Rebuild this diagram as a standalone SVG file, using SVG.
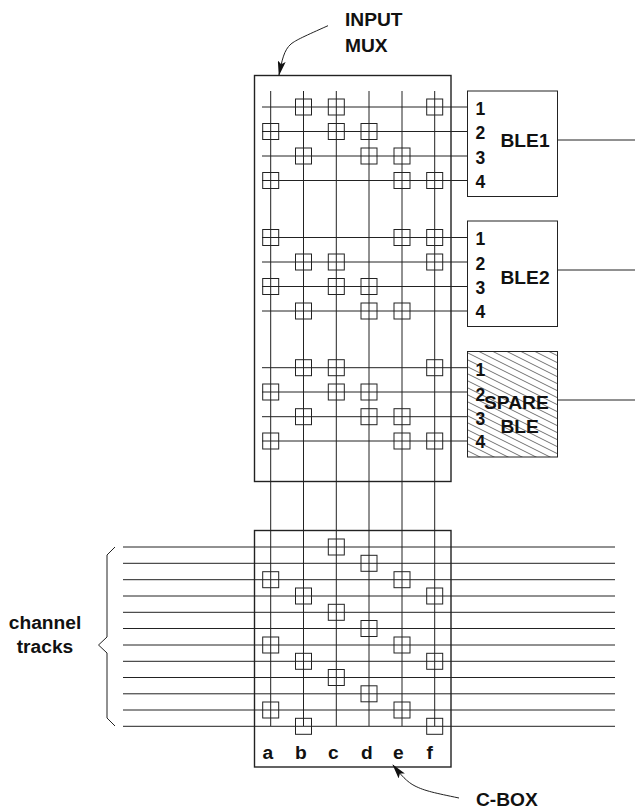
<svg xmlns="http://www.w3.org/2000/svg" width="635" height="809" viewBox="0 0 635 809">
<style>
text{font-family:"Liberation Sans",Arial,sans-serif;font-weight:700;font-size:19.200px;fill:#111}
.d{font-size:17.500px}
.w{fill:none;stroke:#222;stroke-width:1}
.b{fill:none;stroke:#222;stroke-width:1.400}
.n{fill:#fff;stroke:#222;stroke-width:1}
.m{text-anchor:middle}
</style>
<defs>
<pattern id="h" width="14" height="7" patternUnits="userSpaceOnUse"><path d="M-14 -7L28 14M-14 0L14 14M0 -7L28 7" stroke="#333" stroke-width=".7" fill="none"/></pattern>
<symbol id="s" overflow="visible"><rect x="-8" y="-8" width="16" height="16" class="w"/></symbol>
<marker id="a" markerWidth="15" markerHeight="8" refX="14" refY="4" orient="auto" markerUnits="userSpaceOnUse"><path d="M0 0L15 4L0 8L3 4z" fill="#111"/></marker>
</defs>
<g id="input-mux"><rect x="254.500" y="75.500" width="196.500" height="406" class="b"/></g>
<g id="c-box"><rect x="254.500" y="530.500" width="196.500" height="236.500" class="b"/></g>
<g id="ble1"><rect x="467.500" y="91" width="90" height="105.500" class="n"/><text class="d" x="475.500" y="115">1</text><text class="d" x="475.500" y="139">2</text><text class="d" x="475.500" y="164">3</text><text class="d" x="475.500" y="188">4</text><text x="500.500" y="147">BLE1</text></g>
<g id="ble2"><rect x="467.500" y="221" width="90" height="105.500" class="n"/><text class="d" x="475.500" y="245">1</text><text class="d" x="475.500" y="269.500">2</text><text class="d" x="475.500" y="294">3</text><text class="d" x="475.500" y="318">4</text><text x="500.500" y="284">BLE2</text></g>
<g id="spare-ble"><rect x="467.500" y="351.500" width="90" height="105.500" fill="#fff"/><rect x="467.500" y="351.500" width="90" height="105.500" fill="url(#h)" stroke="#222"/><text class="d" x="475.500" y="375.500">1</text><text class="d" x="475.500" y="401">2</text><text class="d" x="475.500" y="425">3</text><text class="d" x="475.500" y="448">4</text><text x="484" y="409">SPARE</text><text x="500.500" y="433">BLE</text></g>
<g id="connectors" class="w">
<path class="w" d="M270.700 91V726M303.500 91V726M336.300 91V726M369 91V726M402 91V726M434.700 91V726"/>
<path class="w" d="M262 107H467M262 131.500H467M262 156H467M262 180.500H467M262 237.500H467M262 262H467M262 286.500H467M262 311H467M262 367.700H467M262 392H467M262 416.700H467M262 441H467"/>
<path class="w" d="M557.500 140H635M557.500 270H635M557.500 400H635"/>
<path class="w" d="M123 547H615M123 563.300H615M123 579.700H615M123 596H615M123 612.300H615M123 628.500H615M123 645H615M123 661.300H615M123 677.500H615M123 693.800H615M123 710H615M123 726.300H615"/>
<path class="w" d="M115 547L107 555V637L98.500 645L107 653V718L115 726"/>
<path class="w" marker-end="url(#a)" d="M328 25.700C305 36 296 40 291 44C284 50 282 60 279 75"/>
<path class="w" marker-end="url(#a)" d="M459 798C435 793 425 791 415 786C407 782 401 775 393 765"/>
</g>
<g id="switches" fill="none">
<use href="#s" x="303.500" y="107"/><use href="#s" x="336.300" y="107"/><use href="#s" x="434.700" y="107"/>
<use href="#s" x="270.700" y="131.500"/><use href="#s" x="336.300" y="131.500"/><use href="#s" x="369" y="131.500"/>
<use href="#s" x="303.500" y="156"/><use href="#s" x="369" y="156"/><use href="#s" x="402" y="156"/>
<use href="#s" x="270.700" y="180.500"/><use href="#s" x="402" y="180.500"/><use href="#s" x="434.700" y="180.500"/>
<use href="#s" x="270.700" y="237.500"/><use href="#s" x="402" y="237.500"/><use href="#s" x="434.700" y="237.500"/>
<use href="#s" x="303.500" y="262"/><use href="#s" x="336.300" y="262"/><use href="#s" x="434.700" y="262"/>
<use href="#s" x="270.700" y="286.500"/><use href="#s" x="336.300" y="286.500"/><use href="#s" x="369" y="286.500"/>
<use href="#s" x="303.500" y="311"/><use href="#s" x="369" y="311"/><use href="#s" x="402" y="311"/>
<use href="#s" x="303.500" y="367.700"/><use href="#s" x="336.300" y="367.700"/><use href="#s" x="434.700" y="367.700"/>
<use href="#s" x="270.700" y="392"/><use href="#s" x="336.300" y="392"/><use href="#s" x="369" y="392"/>
<use href="#s" x="303.500" y="416.700"/><use href="#s" x="369" y="416.700"/><use href="#s" x="402" y="416.700"/>
<use href="#s" x="270.700" y="441"/><use href="#s" x="402" y="441"/><use href="#s" x="434.700" y="441"/>
<use href="#s" x="336.300" y="547"/><use href="#s" x="369" y="563.300"/><use href="#s" x="270.700" y="579.700"/><use href="#s" x="402" y="579.700"/><use href="#s" x="303.500" y="596"/><use href="#s" x="434.700" y="596"/>
<use href="#s" x="336.300" y="612.300"/><use href="#s" x="369" y="628.500"/><use href="#s" x="270.700" y="645"/><use href="#s" x="402" y="645"/><use href="#s" x="303.500" y="661.300"/><use href="#s" x="434.700" y="661.300"/>
<use href="#s" x="336.300" y="677.500"/><use href="#s" x="369" y="693.800"/><use href="#s" x="270.700" y="710"/><use href="#s" x="402" y="710"/><use href="#s" x="303.500" y="726.300"/><use href="#s" x="434.700" y="726.300"/>
</g>
<g id="labels">
<text x="345" y="26">INPUT</text><text x="345" y="52">MUX</text>
<text x="45" y="629" class="m">channel</text><text x="45" y="653" class="m">tracks</text>
<text x="262.500" y="759">a</text><text x="295" y="759">b</text><text x="328" y="759">c</text><text x="361" y="759">d</text><text x="393" y="759">e</text><text x="426.500" y="759">f</text>
<text x="476" y="806">C-BOX</text>
</g>
</svg>
